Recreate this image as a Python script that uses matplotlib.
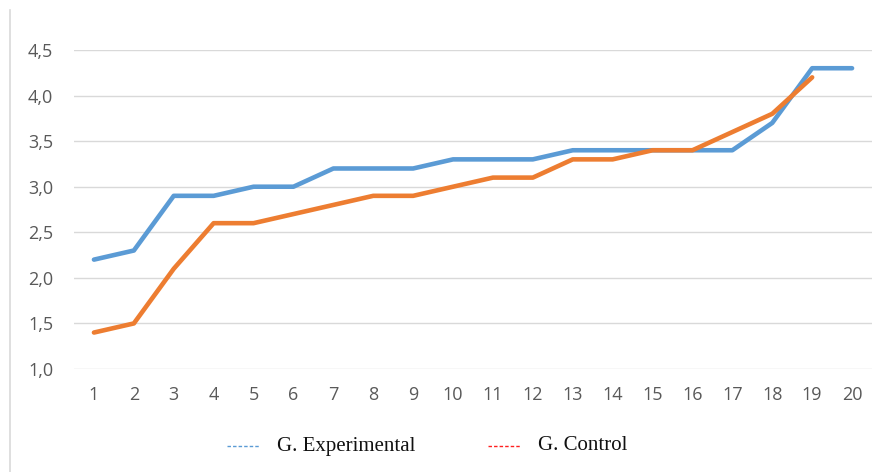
import matplotlib
matplotlib.use("Agg")
import matplotlib.pyplot as plt
from matplotlib.lines import Line2D
from matplotlib.ticker import FuncFormatter

x_labels = [str(i) for i in range(1, 21)]
experimental = [2.2, 2.3, 2.9, 2.9, 3.0, 3.0, 3.2, 3.2, 3.2, 3.3, 3.3, 3.3, 3.4, 3.4, 3.4, 3.4, 3.4, 3.7, 4.3, 4.3]
control = [1.4, 1.5, 2.1, 2.6, 2.6, 2.7, 2.8, 2.9, 2.9, 3.0, 3.1, 3.1, 3.3, 3.3, 3.4, 3.4, 3.6, 3.8, 4.2]
y_ticks = [1.0, 1.5, 2.0, 2.5, 3.0, 3.5, 4.0, 4.5]

W, H = 886, 472
fig = plt.figure(figsize=(W / 100, H / 100), dpi=100)
ax = fig.add_axes([74 / W, 1 - 369 / H, (872 - 74) / W, (369 - 50) / H])

xs = list(range(1, len(experimental) + 1))
xc = list(range(1, len(control) + 1))
ax.plot(xs, experimental, color="#5B9BD5", lw=3.3, solid_capstyle="round", solid_joinstyle="round", zorder=3)
ax.plot(xc, control, color="#ED7D31", lw=3.3, solid_capstyle="round", solid_joinstyle="round", zorder=4)

ax.set_xlim(0.5, 20.5)
ax.set_ylim(1.0, 4.5)
ax.set_yticks(y_ticks)
ax.yaxis.set_major_formatter(FuncFormatter(lambda v, p: f"{v:.1f}".replace(".", ",")))
ax.set_xticks(xs)
ax.set_xticklabels(x_labels)
ax.grid(axis="y", color="#d9d9d9", lw=1.0)
ax.set_axisbelow(True)
for s in ax.spines.values():
    s.set_visible(False)
ax.tick_params(axis="both", length=0, labelsize=13, labelcolor="#595959")
ax.tick_params(axis="x", pad=12)
ax.tick_params(axis="y", pad=15)
for lab in ax.get_xticklabels() + ax.get_yticklabels():
    lab.set_fontfamily("Open Sans")

# left border line
fig.add_artist(Line2D([10 / W, 10 / W], [0, 1 - 10 / H], transform=fig.transFigure, color="#d9d9d9", lw=1.2))

# legend
ly = 1 - 446 / H
fig.add_artist(Line2D([227 / W, 260 / W], [ly, ly], transform=fig.transFigure, color="#5B9BD5", lw=1.0, dashes=(2.5, 1.5)))
fig.text(277 / W, ly, "G. Experimental", fontfamily="Liberation Serif", fontsize=15, va="center", color="#111111")
fig.add_artist(Line2D([488 / W, 520 / W], [ly, ly], transform=fig.transFigure, color="#FF2020", lw=1.0, dashes=(2.5, 1.5)))
fig.text(538 / W, ly, "G. Control", fontfamily="Liberation Serif", fontsize=15, va="center", color="#111111")

fig.savefig("out.png", dpi=100)
